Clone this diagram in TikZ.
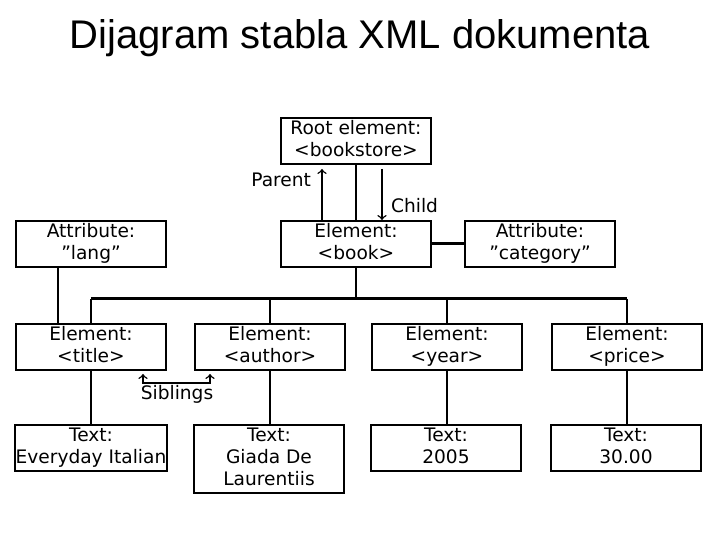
\documentclass[tikz,border=0pt]{standalone}
\usepackage{fontspec}
\setmainfont{DejaVu Sans}
\newfontfamily\titlefont{Liberation Sans}
\newcommand{\bxline}[1]{\strut #1}
\tikzset{
    xbox/.style={draw, line width=1pt, minimum width=75pt, minimum height=22pt, align=center, inner sep=0.5pt, font=\fontsize{9.3}{11}\selectfont},
    lbl/.style={font=\fontsize{9.3}{11}\selectfont},
    conn/.style={line width=0.75pt},
    bus/.style={line width=1.5pt}
}
\begin{document}
\begin{tikzpicture}[x=0.5pt, y=-0.5pt]
    \useasboundingbox (0,0) rectangle (720,540);
    \node[font=\titlefont\fontsize{20}{24}\selectfont] (title) at (360,38) {Dijagram stabla XML dokumenta};

    \node[xbox] (root) at (356,141) {\bxline{Root element:}\\\bxline{<bookstore>}};
    \node[xbox] (lang) at (91,244) {\bxline{Attribute:}\\\bxline{\char"201D lang\char"201D}};
    \node[xbox] (book) at (356,244) {\bxline{Element:}\\\bxline{<book>}};
    \node[xbox] (cat) at (540,244) {\bxline{Attribute:}\\\bxline{\char"201D category\char"201D}};

    \node[xbox] (etitle) at (91,347) {\bxline{Element:}\\\bxline{<title>}};
    \node[xbox] (eauthor) at (270,347) {\bxline{Element:}\\\bxline{<author>}};
    \node[xbox] (eyear) at (447,347) {\bxline{Element:}\\\bxline{<year>}};
    \node[xbox] (eprice) at (627,347) {\bxline{Element:}\\\bxline{<price>}};

    \node[xbox] (ttitle) at (91,448) {\bxline{Text:}\\\bxline{Everyday Italian}};
    \node[xbox] (tauthor) at (269,459) {\bxline{Text:}\\\bxline{Giada De}\\\bxline{Laurentiis}};
    \node[xbox] (tyear) at (446,448) {\bxline{Text:}\\\bxline{2005}};
    \node[xbox] (tprice) at (626,448) {\bxline{Text:}\\\bxline{30.00}};

    % Parent / child
    \draw[conn] (root) -- (book);
    \coordinate (px) at (322,0);
    \coordinate (cx) at (382,0);
    \draw[conn, ->, shorten >=2pt] (book.north -| px) -- (root.south -| px);
    \draw[conn, ->, shorten <=2pt] (root.south -| cx) -- (book.north -| cx);
    \node[lbl, left] (lparent) at (318,180) {Parent};
    \node[lbl, right] (lchild) at (384,206) {Child};

    % Attributes
    \draw[bus] (book) -- (cat);
    \coordinate (lx) at (58,0);
    \draw[conn] (lang.south -| lx) -- (etitle.north -| lx);

    % Children of book
    \coordinate (busL) at (91,299);
    \coordinate (busR) at (627,299);
    \draw[conn] (book.south) -- (book.south |- busL);
    \draw[bus] (busL) -- (busR);
    \foreach \e in {etitle, eauthor, eyear, eprice}
        \draw[conn] (\e.north |- busL) -- (\e.north);

    % Text nodes
    \draw[conn] (etitle) -- (ttitle);
    \draw[conn] (eauthor.south) -- (eauthor.south |- tauthor.north);
    \draw[conn] (eyear.south) -- (eyear.south |- tyear.north);
    \draw[conn] (eprice.south) -- (eprice.south |- tprice.north);

    % Siblings
    \coordinate (sa) at (143,383);
    \coordinate (sb) at (210,383);
    \draw[conn, <->] ([yshift=-1.5pt]sa |- etitle.south) -- (sa) -- (sb) -- ([yshift=-1.5pt]sb |- eauthor.south);
    \node[lbl] (lsib) at (177,394) {Siblings};
\end{tikzpicture}
\end{document}
